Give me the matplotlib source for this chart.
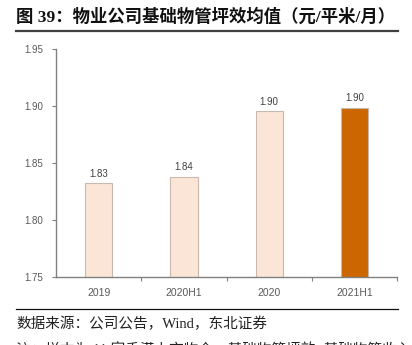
import matplotlib.pyplot as plt
from matplotlib.lines import Line2D

plt.rcParams['font.family'] = ['Liberation Sans', 'Noto Sans CJK SC', 'DejaVu Sans']

categories = ['2019', '2020H1', '2020', '2021H1']
values = [1.832, 1.838, 1.895, 1.898]
labels = ['1.83', '1.84', '1.90', '1.90']
colors = ['#FBE5D6', '#FBE5D6', '#FBE5D6', '#CC6600']
yticks = [1.75, 1.80, 1.85, 1.90, 1.95]

title = '图 39：物业公司基础物管坪效均值（元/平米/月）'
source = '数据来源：公司公告，Wind，东北证券'
note = '注：样本为 11 家香港上市物企，基础物管坪效=基础物管收入/基础物管面积'

fig = plt.figure(figsize=(4.12, 3.45), dpi=100)
ax = fig.add_axes([0.136, 0.197, 0.828, 0.662])

x = range(len(categories))
bars = ax.bar(x, values, width=0.32, color=colors, edgecolor='#C9B8AE', linewidth=0.8)
for b, lab in zip(bars, labels):
    ax.text(b.get_x() + b.get_width() / 2, b.get_height() + 0.004, lab,
            ha='center', va='bottom', fontsize=7, color='#404040')

ax.set_ylim(1.75, 1.95)
ax.set_xlim(-0.5, len(categories) - 0.5)
ax.set_yticks(yticks)
ax.set_yticklabels(['%.2f' % t for t in yticks], fontsize=7, color='#595959')
ax.set_xticks(list(x))
ax.set_xticklabels(categories, fontsize=7.5, color='#595959')
ax.tick_params(axis='x', length=0, pad=8)
ax.tick_params(axis='y', length=3, width=0.8, color='#808080', pad=6)
# ticks between categories
ax.set_xticks([0.5, 1.5, 2.5, 3.5], minor=True)
ax.tick_params(axis='x', which='minor', length=3, width=0.8, color='#808080')

for s in ['top', 'right']:
    ax.spines[s].set_visible(False)
for s in ['left', 'bottom']:
    ax.spines[s].set_color('#808080')
    ax.spines[s].set_linewidth(1.0)

fig.text(0.04, 0.952, title, fontsize=12.5, fontweight='bold', va='center',
         family=['Liberation Serif', 'Noto Sans CJK SC'], color='#111111')
fig.add_artist(Line2D([0.039, 0.966], [0.91, 0.91], color='#404040', linewidth=1.6))
fig.add_artist(Line2D([0.039, 0.966], [0.104, 0.104], color='#111111', linewidth=0.9))
fig.text(0.04, 0.062, source, fontsize=10.5, va='center',
         family=['Liberation Serif', 'Noto Sans CJK SC'], color='#222222')
# note line is cut off at the bottom edge, as in the source picture
fig.text(0.04, -0.014, note, fontsize=10.5, va='center',
         family=['Liberation Serif', 'Noto Sans CJK SC'], color='#222222')

fig.savefig('out.png', dpi=100)
